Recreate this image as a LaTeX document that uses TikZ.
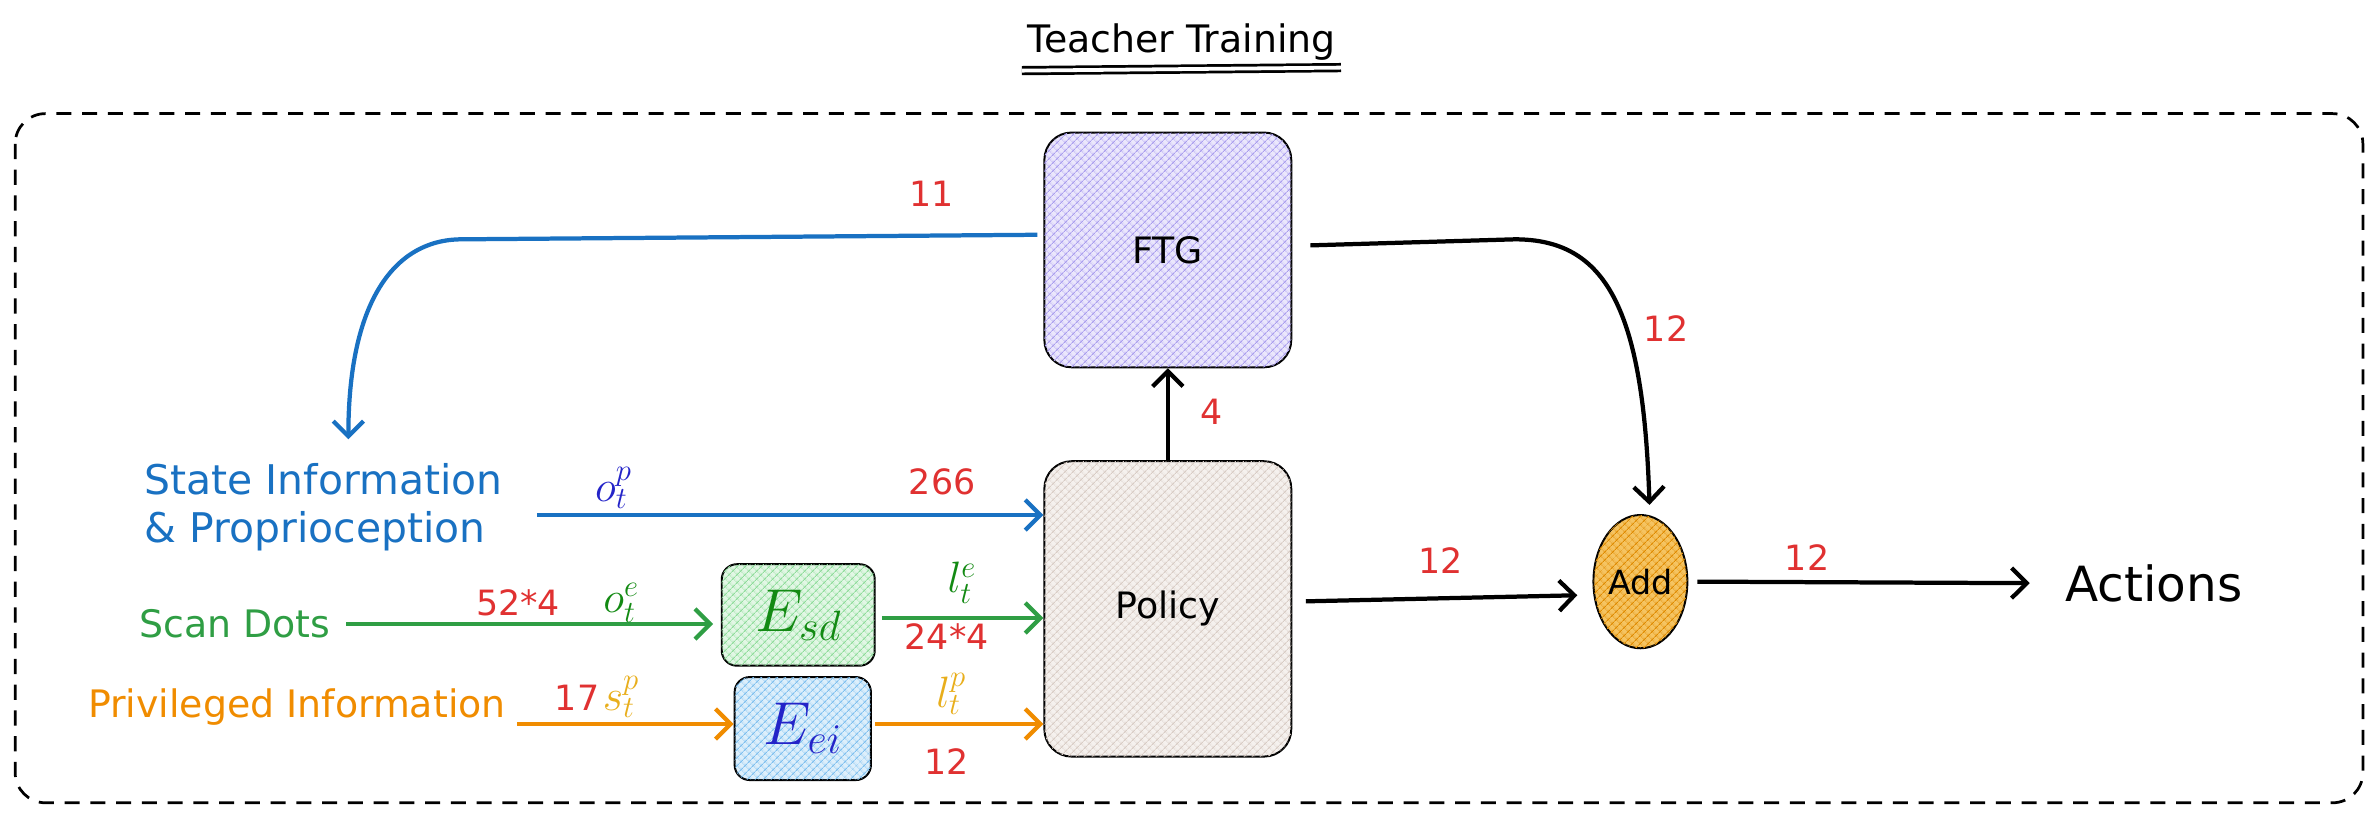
\RequirePackage{fix-cm}
\documentclass[tikz,border=0pt]{standalone}
\usepackage{fontspec}
\setmainfont{DejaVu Sans}
\usetikzlibrary{arrows.meta,positioning,shapes.geometric,patterns.meta}

\definecolor{stateblue}{HTML}{1971C2}
\definecolor{scangreen}{HTML}{2F9E44}
\definecolor{privorange}{HTML}{F08C00}
\definecolor{dimred}{HTML}{E03131}
\definecolor{symblue}{HTML}{2424C8}
\definecolor{symgreen}{HTML}{138A13}
\definecolor{symgold}{HTML}{E8AE1C}
\definecolor{ftgfill}{HTML}{EBE7FC}
\definecolor{ftghatch}{HTML}{A99DEE}
\definecolor{polfill}{HTML}{F5F1EE}
\definecolor{polhatch}{HTML}{D8CCC4}
\definecolor{sdfill}{HTML}{E2F7E5}
\definecolor{sdhatch}{HTML}{8EDC9A}
\definecolor{eifill}{HTML}{DDEFFB}
\definecolor{eihatch}{HTML}{7DBFEF}
\definecolor{addfill}{HTML}{F5C462}
\definecolor{addhatch}{HTML}{DF8A00}

\begin{document}
\begin{tikzpicture}[
  x=1pt, y=-1pt,
  block/.style={draw, line width=1.3pt, rounded corners=18pt, minimum width=163pt, font=\fontsize{24}{28}\selectfont},
  enc/.style={draw, line width=1.3pt, rounded corners=10pt, font=\fontsize{40}{44}\selectfont},
  hatch/.style={postaction={pattern={Hatch[angle=45,distance=4pt,line width=0.7pt]}, pattern color=#1}},
  lbl/.style={font=\fontsize{25}{32}\selectfont},
  num/.style={text=dimred, font=\fontsize{23}{26}\selectfont},
  sym/.style={font=\fontsize{29}{32}\selectfont},
  flow/.style={->, line width=2.8pt},
  >={Straight Barb[length=10pt,width=20pt]}
]
\useasboundingbox (0,0) rectangle (1568,543);

% title and frame
\node[lbl] (title) at (780,28) {Teacher Training};
\draw[line width=1.8pt, double distance=2.5pt] ([yshift=-3pt]title.south west) -- ([yshift=-1pt]title.south east);
\draw[line width=1.8pt, dash pattern=on 10pt off 7pt, rounded corners=20pt] (10,75) rectangle (1560,530);

% blocks
\node[block, minimum height=155pt, fill=ftgfill, hatch=ftghatch] (ftg) at (771,165) {FTG};
\node[block, minimum height=195pt, fill=polfill, hatch=polhatch] (policy) at (771,402) {Policy};
\node[enc, minimum width=101pt, minimum height=67pt, fill=sdfill, hatch=sdhatch, text=symgreen] (esd) at (527,406) {$E_{sd}$};
\node[enc, minimum width=90pt, minimum height=68pt, fill=eifill, hatch=eihatch, text=symblue] (eei) at (530,481) {$E_{ei}$};
\node[ellipse, draw, line width=1.3pt, minimum width=62pt, minimum height=88pt, inner sep=0pt,
      fill=addfill, hatch=addhatch, font=\fontsize{22}{24}\selectfont] (add) at (1083,384) {Add};

% inputs and output
\node[lbl, font=\fontsize{27}{32}\selectfont, text=stateblue, align=left, anchor=west] (state) at (92,335) {State Information\\\& Proprioception};
\node[lbl, text=scangreen] (scan) at (155,412) {Scan Dots};
\node[lbl, text=privorange] (priv) at (196,467) {Privileged Information};
\node[font=\fontsize{32}{36}\selectfont] (actions) at (1422,385) {Actions};
\coordinate (statein) at (230,290);

% connectors
\draw[flow, stateblue] ([xshift=19pt,yshift=-5pt]state.east) -- ([yshift=-5pt]state.east -| policy.west);
\draw[flow, scangreen, shorten >=5pt] ([xshift=7pt]scan.east) -- (scan.east -| esd.west);
\draw[flow, scangreen] ([xshift=4pt,yshift=-2pt]esd.east) -- ([yshift=-2pt]esd.east -| policy.west);
\draw[flow, privorange] ([xshift=4pt,yshift=-11pt]priv.east) -- ([yshift=-11pt]priv.east -| eei.west);
\draw[flow, privorange] ([xshift=2pt,yshift=3pt]eei.east) -- ([yshift=3pt]eei.east -| policy.west);
\draw[flow] (policy.north) -- (ftg.south);
\draw[flow, stateblue] ([xshift=-4pt,yshift=10pt]ftg.west) -- ++(-380,3) .. controls +(-45,0) and +(0,-90) .. (statein);
\draw[flow] ([xshift=12pt,yshift=3pt]ftg.east) -- ++(135,-4) .. controls +(60,0) and +(-4,-130) .. ([xshift=6pt,yshift=6pt]add.north);
\draw[flow] ([xshift=9pt,yshift=5pt]policy.east) -- ([xshift=-10pt,yshift=-9pt]add.west);
\draw[flow] ([xshift=6pt]add.east) -- ([xshift=-20pt]actions.west);

% sizes and symbols
\node[num] (n11) at (615,128) {11};
\node[num] (n4) at (800,272) {4};
\node[num] (n266) at (622,318) {266};
\node[sym, text=symblue] (op) at (405,322) {$o_t^p$};
\node[num] (n524) at (342,398) {52*4};
\node[sym, text=symgreen] (oe) at (410,398) {$o_t^e$};
\node[sym, text=symgreen] (le) at (635,385) {$l_t^e$};
\node[num] (n244) at (625,420) {24*4};
\node[num] (n17) at (381,461) {17};
\node[sym, text=symgold] (sp) at (410,460) {$s_t^p$};
\node[sym, text=symgold] (lp) at (628,458) {$l_t^p$};
\node[num] (n12a) at (625,503) {12};
\node[num] (n12b) at (1100,217) {12};
\node[num] (n12c) at (951,370) {12};
\node[num] (n12d) at (1193,368) {12};
\end{tikzpicture}
\end{document}
